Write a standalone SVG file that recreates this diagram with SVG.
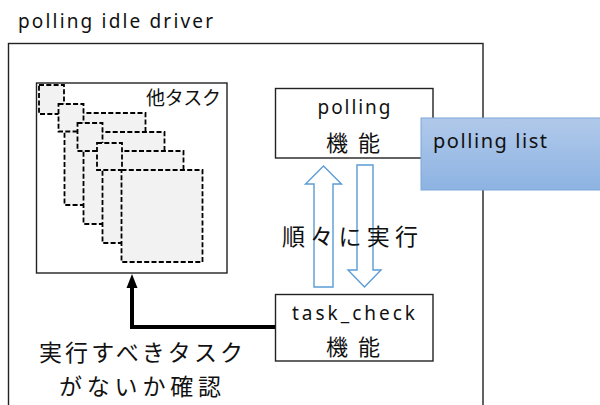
<svg xmlns="http://www.w3.org/2000/svg" width="600" height="405" viewBox="0 0 600 405">
  <style>
    .lat { font-family: "Noto Sans", "Liberation Sans", "Noto Sans CJK JP", sans-serif; fill: #111; }
    .jp { font-family: "Noto Sans CJK JP", "Noto Sans", sans-serif; fill: #111; }
    .box { fill: #ffffff; stroke: #222; stroke-width: 1.4; }
    .task { fill: #f2f2f2; stroke: #000; stroke-width: 1.8; stroke-dasharray: 5 2.3; }
    .blue { fill: #ffffff; fill-opacity: 0; stroke: #5b9bd5; stroke-width: 1.4; }
  </style>
  <defs>
    <linearGradient id="gradList" x1="0" y1="0" x2="0" y2="1">
      <stop offset="0" stop-color="#b1c9ea"/>
      <stop offset="1" stop-color="#8db3e2"/>
    </linearGradient>
    <marker id="headBlack" markerUnits="userSpaceOnUse" markerWidth="15" markerHeight="12" refX="0" refY="5.5" orient="auto" viewBox="0 0 15 11">
      <polygon points="0,0 14,5.5 0,11" fill="#000"/>
    </marker>
  </defs>
  <rect width="600" height="405" fill="#ffffff"/>

  <g id="idle-driver">
    <text class="lat" x="18" y="28" font-size="19" textLength="195" lengthAdjust="spacing">polling idle driver</text>
    <rect x="8.5" y="43.5" width="474.5" height="400" fill="none" stroke="#222" stroke-width="1.4"/>
  </g>

  <g id="other-tasks">
    <rect class="box" x="36.5" y="83" width="190.5" height="190"/>
    <rect class="task" x="39" y="85" width="25" height="29"/>
    <rect class="task" x="64.5" y="113" width="81" height="92"/>
    <rect class="task" x="58.5" y="104" width="25" height="27.5"/>
    <rect class="task" x="83.5" y="132" width="81" height="92"/>
    <rect class="task" x="77.5" y="123" width="25" height="28"/>
    <rect class="task" x="102.5" y="151" width="81" height="92"/>
    <rect class="task" x="97" y="143" width="25" height="27"/>
    <rect class="task" x="121.5" y="170" width="81" height="92"/>
    <text class="jp" x="221" y="104.5" font-size="19" text-anchor="end" textLength="75" lengthAdjust="spacing">他タスク</text>
  </g>

  <g id="polling">
    <rect class="box" x="275.5" y="88.5" width="157.5" height="69.5"/>
    <text class="lat" x="354" y="114" font-size="19" text-anchor="middle" textLength="73" lengthAdjust="spacing">polling</text>
    <text class="jp" x="353" y="150.5" font-size="22" text-anchor="middle" textLength="54" lengthAdjust="spacing">機能</text>
  </g>

  <g id="polling-list">
    <rect x="421" y="118" width="190" height="72" fill="url(#gradList)" stroke="#7da7d9" stroke-width="1"/>
    <text class="lat" x="433" y="147.5" font-size="20" textLength="114" lengthAdjust="spacing">polling list</text>
  </g>

  <g id="task-check">
    <rect class="box" x="275.5" y="294.5" width="157.5" height="66.5"/>
    <text class="lat" x="353.5" y="320" font-size="19" text-anchor="middle" textLength="123" lengthAdjust="spacing">task_check</text>
    <text class="jp" x="353" y="355" font-size="22" text-anchor="middle" textLength="54" lengthAdjust="spacing">機能</text>
  </g>

  <g id="connectors">
    <path d="M275,327 H132 V288" fill="none" stroke="#000" stroke-width="4" marker-end="url(#headBlack)"/>
    <polygon class="blue" points="323.5,166 341.5,184 333,184 333,287 314,287 314,184 305.5,184"/>
    <polygon class="blue" points="357,165 373,165 373,270 381,270 364.5,287 348,270 357,270"/>
  </g>

  <g id="labels">
    <text class="jp" x="350" y="245" font-size="23" text-anchor="middle" textLength="136" lengthAdjust="spacing">順々に実行</text>
    <text class="jp" x="141" y="361" font-size="23" text-anchor="middle" textLength="204" lengthAdjust="spacing">実行すべきタスク</text>
    <text class="jp" x="140" y="395" font-size="23" text-anchor="middle" textLength="162" lengthAdjust="spacing">がないか確認</text>
  </g>
</svg>
